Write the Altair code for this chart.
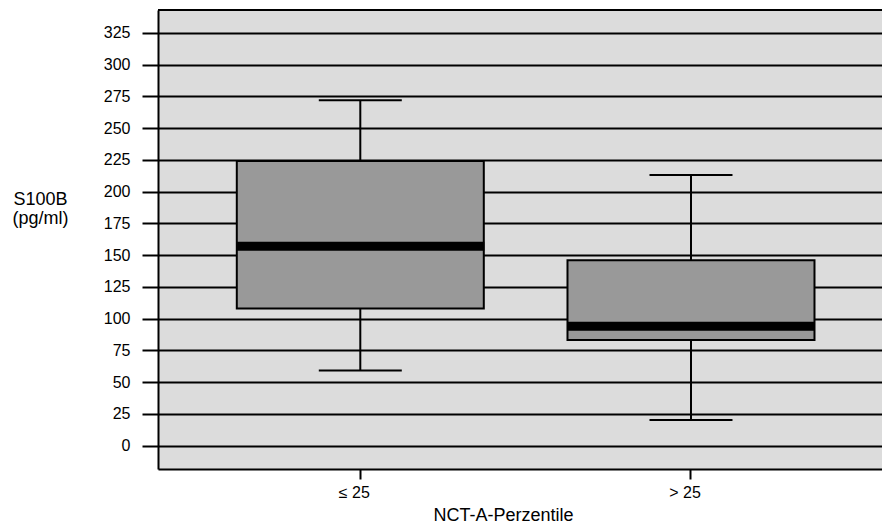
import altair as alt
import pandas as pd

# Box-plot summary per NCT-A percentile group
groups = ["≤ 25", "> 25"]
whisker_low = [59, 20]
q1 = [108, 83]
median = [157, 94]
q3 = [224, 146]
whisker_high = [272, 213]

y_ticks = list(range(0, 326, 25))
y_min, y_max = -18.5, 343

df = pd.DataFrame({
    "group": groups,
    "lo": whisker_low,
    "q1": q1,
    "median": median,
    "q3": q3,
    "hi": whisker_high,
})

FONT = "Liberation Sans"

x_enc = alt.X(
    "group:N",
    sort=groups,
    scale=alt.Scale(paddingInner=0, paddingOuter=0.1491, align=0.3747),
    axis=alt.Axis(
        title="NCT-A-Perzentile",
        labelAngle=0,
        labelFontSize=16,
        labelPadding=5,
        labelColor="black",
        labelOffset=-6,
        tickSize=10,
        tickWidth=2,
        tickColor="black",
        domainColor="black",
        domainWidth=2,
        titleFontSize=18,
        titleFontWeight="normal",
        titleColor="black",
        titleX=345,
        titleY=51,
        titleAlign="center",
        titleBaseline="alphabetic",
    ),
)

y_scale = alt.Scale(domain=[y_min, y_max], nice=False, zero=False)

y_axis = alt.Axis(
    values=y_ticks,
    grid=True,
    gridColor="black",
    gridWidth=2,
    tickSize=16,
    tickWidth=2,
    tickColor="black",
    domainColor="black",
    domainWidth=2,
    labelFontSize=16,
    labelPadding=12,
    labelColor="black",
    labelOverlap=False,
    title=["S100B", "(pg/ml)"],
    titleAngle=0,
    titleAlign="center",
    titleBaseline="alphabetic",
    titleX=-118,
    titleY=194,
    titleFontSize=18,
    titleFontWeight="normal",
    titleColor="black",
    titleLineHeight=19,
)


def y_enc(field):
    return alt.Y(f"{field}:Q", scale=y_scale, axis=y_axis)


base = alt.Chart(df)

whiskers = base.mark_rule(color="black", strokeWidth=2).encode(
    x=x_enc,
    y=y_enc("lo"),
    y2="hi:Q",
)

boxes = base.mark_bar(
    size=247, fill="#999999", stroke="black", strokeWidth=2
).encode(
    x=x_enc,
    y=y_enc("q1"),
    y2="q3:Q",
)

medians = base.mark_tick(size=248, thickness=9, color="black", opacity=1).encode(
    x=x_enc,
    y=y_enc("median"),
)

caps_low = base.mark_tick(size=83, thickness=2, color="black", opacity=1).encode(
    x=x_enc,
    y=y_enc("lo"),
)

caps_high = base.mark_tick(size=83, thickness=2, color="black", opacity=1).encode(
    x=x_enc,
    y=y_enc("hi"),
)

# upper frame line of the plot area
top_frame = alt.Chart(df).mark_rule(color="black", strokeWidth=2).encode(
    y=alt.datum(y_max, scale=y_scale, axis=y_axis)
)

# the plot area runs on past the right edge of the page
chart = (
    alt.layer(whiskers, boxes, medians, caps_low, caps_high, top_frame)
    .properties(
        width=760,
        height=459,
        padding={"left": 158, "top": 10, "right": -36, "bottom": 55},
        autosize=alt.AutoSizeParams(type="none"),
        background="white",
    )
    .configure_view(fill="#dcdcdc", stroke=None)
    .configure_axis(labelFont=FONT, titleFont=FONT)
)

chart.save("out.html", embed_options={"renderer": "svg", "actions": False})
